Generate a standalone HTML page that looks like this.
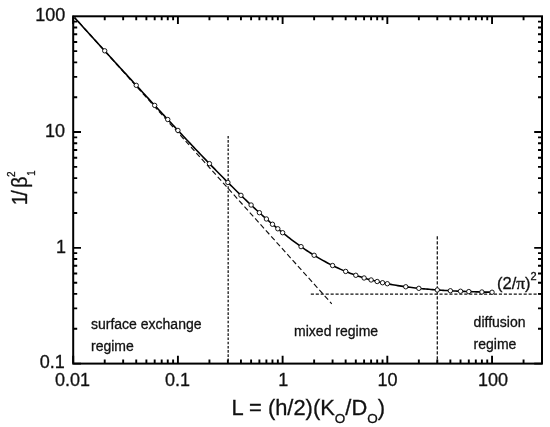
<!DOCTYPE html>
<html lang="en"><head><meta charset="utf-8"><title>1/β₁² versus L</title>
<style>html,body{margin:0;padding:0;background:#fff}body{width:550px;height:427px;overflow:hidden}svg{display:block}text{font-family:"Liberation Sans", sans-serif;fill:#111;stroke:#111;stroke-width:.3px}</style>
</head><body>
<svg width="550" height="427" viewBox="0 0 550 427">
<rect width="550" height="427" fill="#fff"/>
<path d="M73.20 363.60v-7.80M73.20 16.30v7.80M104.72 363.60v-4.00M104.72 16.30v4.00M123.16 363.60v-4.00M123.16 16.30v4.00M136.24 363.60v-4.00M136.24 16.30v4.00M146.39 363.60v-4.00M146.39 16.30v4.00M154.68 363.60v-4.00M154.68 16.30v4.00M161.69 363.60v-4.00M161.69 16.30v4.00M167.76 363.60v-4.00M167.76 16.30v4.00M173.12 363.60v-4.00M173.12 16.30v4.00M177.91 363.60v-7.80M177.91 16.30v7.80M209.43 363.60v-4.00M209.43 16.30v4.00M227.87 363.60v-4.00M227.87 16.30v4.00M240.95 363.60v-4.00M240.95 16.30v4.00M251.10 363.60v-4.00M251.10 16.30v4.00M259.39 363.60v-4.00M259.39 16.30v4.00M266.40 363.60v-4.00M266.40 16.30v4.00M272.47 363.60v-4.00M272.47 16.30v4.00M277.83 363.60v-4.00M277.83 16.30v4.00M282.62 363.60v-7.80M282.62 16.30v7.80M314.14 363.60v-4.00M314.14 16.30v4.00M332.58 363.60v-4.00M332.58 16.30v4.00M345.66 363.60v-4.00M345.66 16.30v4.00M355.81 363.60v-4.00M355.81 16.30v4.00M364.10 363.60v-4.00M364.10 16.30v4.00M371.11 363.60v-4.00M371.11 16.30v4.00M377.18 363.60v-4.00M377.18 16.30v4.00M382.54 363.60v-4.00M382.54 16.30v4.00M387.33 363.60v-7.80M387.33 16.30v7.80M418.85 363.60v-4.00M418.85 16.30v4.00M437.29 363.60v-4.00M437.29 16.30v4.00M450.37 363.60v-4.00M450.37 16.30v4.00M460.52 363.60v-4.00M460.52 16.30v4.00M468.81 363.60v-4.00M468.81 16.30v4.00M475.82 363.60v-4.00M475.82 16.30v4.00M481.89 363.60v-4.00M481.89 16.30v4.00M487.25 363.60v-4.00M487.25 16.30v4.00M492.04 363.60v-7.80M492.04 16.30v7.80M523.56 363.60v-4.00M523.56 16.30v4.00M542.00 363.60v-4.00M542.00 16.30v4.00M73.20 363.60h7.80M542.00 363.60h-7.80M73.20 328.75h4.00M542.00 328.75h-4.00M73.20 308.37h4.00M542.00 308.37h-4.00M73.20 293.90h4.00M542.00 293.90h-4.00M73.20 282.68h4.00M542.00 282.68h-4.00M73.20 273.52h4.00M542.00 273.52h-4.00M73.20 265.77h4.00M542.00 265.77h-4.00M73.20 259.05h4.00M542.00 259.05h-4.00M73.20 253.13h4.00M542.00 253.13h-4.00M73.20 247.83h7.80M542.00 247.83h-7.80M73.20 212.98h4.00M542.00 212.98h-4.00M73.20 192.60h4.00M542.00 192.60h-4.00M73.20 178.13h4.00M542.00 178.13h-4.00M73.20 166.92h4.00M542.00 166.92h-4.00M73.20 157.75h4.00M542.00 157.75h-4.00M73.20 150.00h4.00M542.00 150.00h-4.00M73.20 143.29h4.00M542.00 143.29h-4.00M73.20 137.36h4.00M542.00 137.36h-4.00M73.20 132.07h7.80M542.00 132.07h-7.80M73.20 97.22h4.00M542.00 97.22h-4.00M73.20 76.83h4.00M542.00 76.83h-4.00M73.20 62.37h4.00M542.00 62.37h-4.00M73.20 51.15h4.00M542.00 51.15h-4.00M73.20 41.98h4.00M542.00 41.98h-4.00M73.20 34.23h4.00M542.00 34.23h-4.00M73.20 27.52h4.00M542.00 27.52h-4.00M73.20 21.60h4.00M542.00 21.60h-4.00" stroke="#000" stroke-width="1.9" fill="none"/>
<g stroke="#111" stroke-width="1.25" fill="none">
<path d="M228.17 135.90V363.60" stroke-dasharray="2.6 1.6"/>
<path d="M437.29 236.30V363.60" stroke-dasharray="3.1 1.9"/>
<path d="M310.80 294.03H542.00" stroke-dasharray="3.1 1.85"/>
<path d="M73.35 16.15L331.78 303.77" stroke-dasharray="5.2 2.8" stroke-width="1.15"/>
</g>
<path d="M73.20 16.13L74.95 18.06L76.69 19.98L78.44 21.90L80.18 23.82L81.93 25.74L83.67 27.67L85.42 29.59L87.16 31.51L88.91 33.43L90.65 35.35L92.40 37.27L94.14 39.19L95.89 41.11L97.63 43.03L99.38 44.94L101.12 46.86L102.87 48.78L104.61 50.70L106.36 52.61L108.10 54.53L109.85 56.44L111.59 58.36L113.34 60.27L115.08 62.19L116.83 64.10L118.57 66.01L120.32 67.92L122.06 69.84L123.81 71.75L125.56 73.66L127.30 75.56L129.05 77.47L130.79 79.38L132.54 81.29L134.28 83.19L136.03 85.10L137.77 87.00L139.52 88.90L141.26 90.80L143.01 92.70L144.75 94.60L146.50 96.50L148.24 98.40L149.99 100.29L151.73 102.19L153.48 104.08L155.22 105.97L156.97 107.86L158.71 109.75L160.46 111.64L162.20 113.52L163.95 115.41L165.69 117.29L167.44 119.17L169.18 121.05L170.93 122.92L172.67 124.80L174.42 126.67L176.16 128.54L177.91 130.41L179.66 132.27L181.40 134.14L183.15 136.00L184.89 137.85L186.64 139.71L188.38 141.56L190.13 143.41L191.87 145.26L193.62 147.10L195.36 148.94L197.11 150.77L198.85 152.61L200.60 154.43L202.34 156.26L204.09 158.08L205.83 159.90L207.58 161.71L209.32 163.52L211.07 165.32L212.81 167.12L214.56 168.92L216.30 170.71L218.05 172.49L219.79 174.27L221.54 176.04L223.28 177.81L225.03 179.57L226.77 181.33L228.52 183.08L230.27 184.82L232.01 186.55L233.76 188.28L235.50 190.00L237.25 191.72L238.99 193.42L240.74 195.12L242.48 196.81L244.23 198.49L245.97 200.16L247.72 201.83L249.46 203.48L251.21 205.12L252.95 206.76L254.70 208.38L256.44 209.99L258.19 211.60L259.93 213.19L261.68 214.77L263.42 216.33L265.17 217.89L266.91 219.43L268.66 220.96L270.40 222.48L272.15 223.98L273.89 225.47L275.64 226.95L277.38 228.41L279.13 229.86L280.88 231.29L282.62 232.71L284.37 234.11L286.11 235.49L287.86 236.86L289.60 238.21L291.35 239.54L293.09 240.86L294.84 242.16L296.58 243.44L298.33 244.70L300.07 245.95L301.82 247.17L303.56 248.38L305.31 249.57L307.05 250.74L308.80 251.89L310.54 253.02L312.29 254.12L314.03 255.21L315.78 256.28L317.52 257.33L319.27 258.36L321.01 259.37L322.76 260.36L324.50 261.32L326.25 262.27L327.99 263.20L329.74 264.10L331.49 264.99L333.23 265.85L334.98 266.70L336.72 267.52L338.47 268.33L340.21 269.11L341.96 269.88L343.70 270.62L345.45 271.35L347.19 272.06L348.94 272.75L350.68 273.42L352.43 274.07L354.17 274.70L355.92 275.32L357.66 275.92L359.41 276.50L361.15 277.06L362.90 277.61L364.64 278.14L366.39 278.66L368.13 279.16L369.88 279.64L371.62 280.11L373.37 280.56L375.11 281.01L376.86 281.43L378.60 281.85L380.35 282.25L382.09 282.63L383.84 283.01L385.59 283.37L387.33 283.72L389.08 284.06L390.82 284.39L392.57 284.70L394.31 285.01L396.06 285.30L397.80 285.59L399.55 285.86L401.29 286.13L403.04 286.39L404.78 286.64L406.53 286.88L408.27 287.11L410.02 287.33L411.76 287.54L413.51 287.75L415.25 287.95L417.00 288.15L418.74 288.33L420.49 288.51L422.23 288.69L423.98 288.85L425.72 289.02L427.47 289.17L429.21 289.32L430.96 289.47L432.70 289.60L434.45 289.74L436.20 289.87L437.94 289.99L439.69 290.11L441.43 290.23L443.18 290.34L444.92 290.45L446.67 290.55L448.41 290.65L450.16 290.75L451.90 290.84L453.65 290.93L455.39 291.02L457.14 291.10L458.88 291.18L460.63 291.26L462.37 291.33L464.12 291.40L465.86 291.47L467.61 291.54L469.35 291.60L471.10 291.66L472.84 291.72L474.59 291.78L476.33 291.83L478.08 291.88L479.82 291.93L481.57 291.98L483.31 292.03L485.06 292.08L486.81 292.12L488.55 292.16L490.30 292.20L492.04 292.24" stroke="#000" stroke-width="1.6" fill="none" stroke-linejoin="round"/>
<clipPath id="pc"><rect x="73.80" y="16.90" width="467.60" height="346.10"/></clipPath>
<g fill="#fff" stroke="#000" stroke-width="0.9" clip-path="url(#pc)">
<circle cx="73.20" cy="16.13" r="2.2"/>
<circle cx="104.72" cy="50.81" r="2.2"/>
<circle cx="136.24" cy="85.33" r="2.2"/>
<circle cx="154.68" cy="105.38" r="2.2"/>
<circle cx="167.76" cy="119.52" r="2.2"/>
<circle cx="177.91" cy="130.41" r="2.2"/>
<circle cx="209.43" cy="163.63" r="2.2"/>
<circle cx="227.87" cy="182.42" r="2.2"/>
<circle cx="240.95" cy="195.33" r="2.2"/>
<circle cx="251.10" cy="205.02" r="2.2"/>
<circle cx="259.39" cy="212.69" r="2.2"/>
<circle cx="266.40" cy="218.98" r="2.2"/>
<circle cx="272.47" cy="224.26" r="2.2"/>
<circle cx="277.83" cy="228.78" r="2.2"/>
<circle cx="282.62" cy="232.71" r="2.2"/>
<circle cx="301.06" cy="246.64" r="2.2"/>
<circle cx="314.14" cy="255.28" r="2.2"/>
<circle cx="332.58" cy="265.53" r="2.2"/>
<circle cx="345.66" cy="271.44" r="2.2"/>
<circle cx="355.81" cy="275.28" r="2.2"/>
<circle cx="364.10" cy="277.98" r="2.2"/>
<circle cx="371.11" cy="279.97" r="2.2"/>
<circle cx="377.18" cy="281.51" r="2.2"/>
<circle cx="382.54" cy="282.73" r="2.2"/>
<circle cx="387.33" cy="283.72" r="2.2"/>
<circle cx="405.77" cy="286.77" r="2.2"/>
<circle cx="418.85" cy="288.34" r="2.2"/>
<circle cx="437.29" cy="289.95" r="2.2"/>
<circle cx="450.37" cy="290.76" r="2.2"/>
<circle cx="460.52" cy="291.25" r="2.2"/>
<circle cx="468.81" cy="291.58" r="2.2"/>
<circle cx="481.89" cy="291.99" r="2.2"/>
<circle cx="492.04" cy="292.24" r="2.2"/>
</g>
<rect x="73.20" y="16.30" width="468.80" height="347.30" fill="none" stroke="#000" stroke-width="2"/>
<g font-size="18.0" text-anchor="end">
<text x="65.30" y="21.10">100</text>
<text x="65.10" y="136.87">10</text>
<text x="66.00" y="252.63">1</text>
<text x="64.80" y="368.40">0.1</text>
</g>
<g font-size="18.0" text-anchor="middle">
<text x="72.40" y="386">0.01</text>
<text x="177.61" y="386">0.1</text>
<text x="283.22" y="386">1</text>
<text x="387.43" y="386">10</text>
<text x="492.94" y="386">100</text>
</g>
<text x="231.6" y="415.4" font-size="21.9">L = (h/2)(K<tspan font-size="13.5" dy="7.2">O</tspan><tspan dy="-7.2">/D</tspan><tspan font-size="13.5" dy="7.2">O</tspan><tspan dy="-7.2">)</tspan></text>
<g transform="translate(26.8 204.6) rotate(-90) scale(0.93 1.03)"><text x="-0.8 9.6 17.9" y="0" font-size="21.5">1/β</text><text x="29.6" y="-11.6" font-size="10.8">2</text><text x="31" y="8" font-size="10.2">1</text></g>
<g font-size="14">
<text x="91" y="329">surface exchange</text>
<text x="91" y="350.6">regime</text>
<text x="294.1" y="336.1">mixed regime</text>
<text x="473.6" y="327.3">diffusion</text>
<text x="473.6" y="348.8">regime</text>
</g>
<text x="497" y="289.3" font-size="16.5">(2/<tspan font-family="&quot;Liberation Serif&quot;, &quot;DejaVu Serif&quot;, serif" font-size="17.5">π</tspan>)<tspan font-size="11" dy="-9">2</tspan></text>
</svg>
</body></html>
